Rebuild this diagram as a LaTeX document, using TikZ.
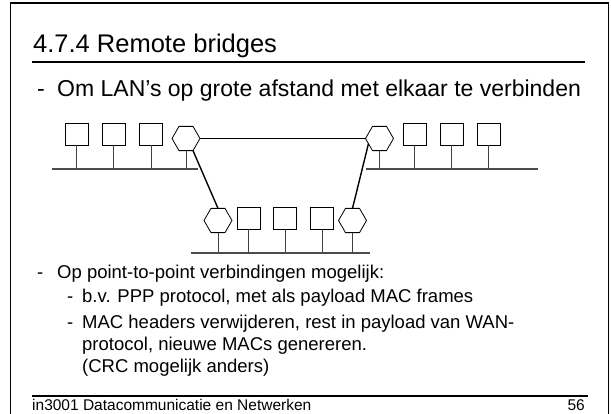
\documentclass[tikz,border=0pt]{standalone}
\usepackage{fontspec}
\setmainfont{Liberation Sans}
\usetikzlibrary{shapes.geometric}
\begin{document}
\begin{tikzpicture}[x=1pt,y=-1pt,
  station/.style={draw=black, line width=0.8pt, minimum width=23pt, minimum height=22pt, inner sep=0pt, outer sep=0pt},
  bridge/.style={draw=black, line width=0.8pt, regular polygon, regular polygon sides=6, minimum size=28pt, inner sep=0pt, outer sep=0pt},
  lan/.style={draw=black!70, line width=1.2pt},
  drop/.style={draw=black!75, line width=0.9pt},
  wan/.style={draw=black, line width=1.4pt},
  txt/.style={anchor=base west, inner sep=0pt, text=black},
  titlefont/.style={font=\fontsize{25.5}{30}\selectfont},
  bigfont/.style={font=\fontsize{23}{27}\selectfont},
  bodyfont/.style={font=\fontsize{18.5}{22}\selectfont},
  footfont/.style={font=\fontsize{15.5}{18}\selectfont},
]
\useasboundingbox (0,0) rectangle (611,414);
\fill[white] (0,0) rectangle (611,414);

% slide frame
\draw[line width=1.8pt] (10.5,414) -- (10.5,3) -- (608.5,3) -- (608.5,414);

% title and rule
\node[txt, titlefont] (title) at (33,53) {4.7.4 Remote bridges};
\coordinate (rulew) at (32,62);
\coordinate (rulee) at (585,62);
\draw[line width=1.4pt] (rulew) -- (rulee);

% first bullet
\node[txt, bigfont] (d1) at (37,97) {-};
\node[txt, bigfont] (t1) at (57,97) {Om LAN’s op grote afstand met elkaar te verbinden};

% LAN segments
\coordinate (lanAw) at (52,169);
\coordinate (lanAe) at (198,169);
\coordinate (lanBw) at (366,169);
\coordinate (lanBe) at (538,169);
\coordinate (lanCw) at (191,253);
\coordinate (lanCe) at (370,253);
\draw[lan] (lanAw) -- (lanAe);
\draw[lan] (lanBw) -- (lanBe);
\draw[lan] (lanCw) -- (lanCe);

% stations and bridges
\node[station] (a1) at (76.5,134) {};
\node[station] (a2) at (113.5,134) {};
\node[station] (a3) at (151,134) {};
\node[bridge]  (h1) at (186,138.5) {};

\node[bridge]  (h2) at (379.5,138.5) {};
\node[station] (b1) at (414.5,134) {};
\node[station] (b2) at (451.5,134) {};
\node[station] (b3) at (488.5,134) {};

\node[bridge]  (h3) at (218,220.5) {};
\node[station] (c1) at (248.5,218) {};
\node[station] (c2) at (285,218) {};
\node[station] (c3) at (322,218) {};
\node[bridge]  (h4) at (352.5,220.5) {};

% taps onto the LAN
\foreach \n in {a1,a2,a3,h1} \draw[drop] (\n.south) -- (\n.south |- lanAw);
\foreach \n in {h2,b1,b2,b3} \draw[drop] (\n.south) -- (\n.south |- lanBw);
\foreach \n in {h3,c1,c2,c3,h4} \draw[drop] (\n.south) -- (\n.south |- lanCw);

% point-to-point links between bridges
\draw[wan] (h1.east) -- (h2.west);
\draw[wan] (h1.300) -- (h3.north);
\draw[wan] (h2.205) -- (h4.north);

% lower bullets
\node[txt, bodyfont] (d2) at (37,279) {-};
\node[txt, bodyfont] (t2) at (57,279) {Op point-to-point verbindingen mogelijk:};
\node[txt, bodyfont] (d3) at (67,303) {-};
\node[txt, bodyfont] (t3) at (82,303) {b.v. PPP protocol, met als payload MAC frames};
\node[txt, bodyfont] (d4) at (67,329) {-};
\node[txt, bodyfont] (t4) at (82,329) {MAC headers verwijderen, rest in payload van WAN-};
\node[txt, bodyfont] (t5) at (82,350) {protocol, nieuwe MACs genereren.};
\node[txt, bodyfont] (t6) at (82,373) {(CRC mogelijk anders)};

% footer
\coordinate (footw) at (32,396);
\coordinate (foote) at (588,396);
\draw[line width=1.4pt] (footw) -- (foote);
\node[txt, footfont] (foot) at (32,410) {in3001 Datacommunicatie en Netwerken};
\node[anchor=base east, inner sep=0pt, footfont] (page) at (585,410) {56};
\end{tikzpicture}
\end{document}
